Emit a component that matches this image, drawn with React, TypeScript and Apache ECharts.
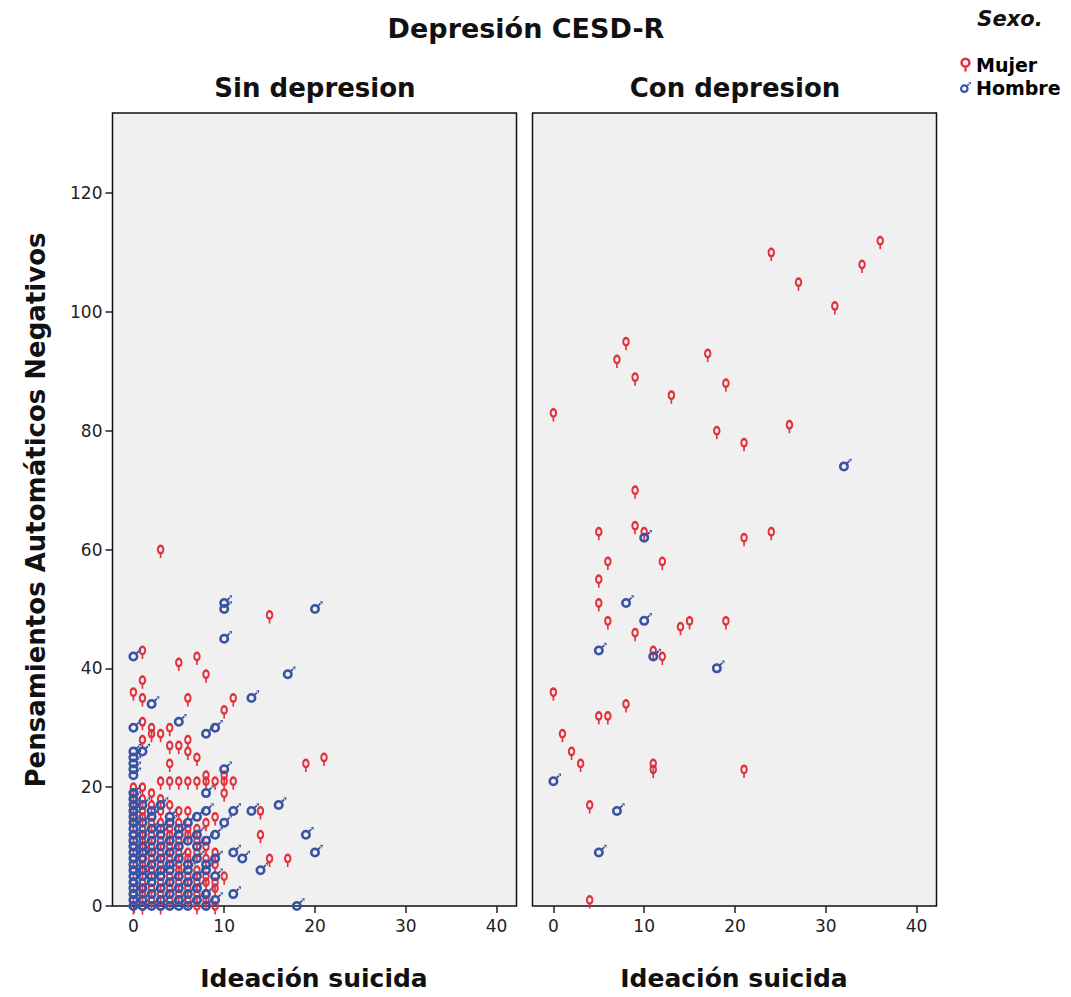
import React, { useEffect, useRef } from "react";
import * as echarts from "echarts";

// ---- Data (Ideación suicida, Pensamientos Automáticos Negativos) ----
const leftMujer: number[][] = [
  [3, 60], [15, 49], [1, 43], [5, 41], [7, 42], [8, 39], [1, 38], [0, 36], [1, 35], [6, 35], [11, 35], [10, 33],
  [1, 31], [2, 30], [3, 29], [4, 30], [6, 28], [1, 28], [2, 29], [4, 27], [5, 27], [6, 26], [7, 25], [4, 24],
  [10, 22], [8, 22], [19, 24], [21, 25], [3, 21], [4, 21], [5, 21], [6, 21], [7, 21], [8, 21], [9, 21], [10, 21],
  [11, 21], [10, 19], [0, 20], [1, 20], [14, 16], [5, 16], [6, 16], [6, 13], [7, 13], [14, 12], [15, 8], [17, 8],
  [10, 5], [9, 4], [8, 2], [9, 0],
  [0, 0], [0, 2], [0, 4], [0, 6], [0, 8], [0, 10], [0, 12], [0, 14], [0, 15], [0, 16], [0, 17], [0, 18], [0, 19],
  [1, 0], [1, 2], [1, 3], [1, 4], [1, 6], [1, 7], [1, 8], [1, 10], [1, 11], [1, 12], [1, 13], [1, 15], [1, 16], [1, 18],
  [2, 1], [2, 3], [2, 6], [2, 8], [2, 10], [2, 12], [2, 14], [2, 17], [2, 19],
  [3, 0], [3, 2], [3, 4], [3, 7], [3, 9], [3, 11], [3, 14], [3, 16], [3, 18],
  [4, 1], [4, 3], [4, 5], [4, 8], [4, 10], [4, 12], [4, 13], [4, 17],
  [5, 2], [5, 4], [5, 6], [5, 7], [5, 9], [5, 11], [5, 14],
  [6, 1], [6, 3], [6, 5], [6, 8], [6, 9], [6, 12],
  [7, 0], [7, 2], [7, 4], [7, 6], [7, 9], [7, 11],
  [8, 1], [8, 4], [8, 5], [8, 8], [8, 10], [8, 14],
  [9, 3], [9, 7], [9, 9], [9, 15],
];

const leftHombre: number[][] = [
  [10, 51], [10, 50], [20, 50], [10, 45], [0, 42], [17, 39], [2, 34], [13, 35], [5, 31], [0, 30], [8, 29], [9, 30],
  [10, 23], [8, 19], [16, 17], [13, 16], [11, 16], [8, 16], [10, 14], [19, 12], [9, 12], [20, 9], [11, 9], [12, 8],
  [14, 6], [11, 2], [18, 0],
  [0, 0], [0, 1], [0, 2], [0, 3], [0, 4], [0, 5], [0, 6], [0, 7], [0, 8], [0, 9], [0, 10], [0, 11], [0, 12], [0, 13],
  [0, 14], [0, 15], [0, 16], [0, 17], [0, 18], [0, 19], [0, 22], [0, 23], [0, 24], [0, 25], [0, 26],
  [1, 0], [1, 1], [1, 3], [1, 5], [1, 6], [1, 8], [1, 9], [1, 10], [1, 12], [1, 14], [1, 17], [1, 26],
  [2, 0], [2, 2], [2, 4], [2, 5], [2, 7], [2, 9], [2, 11], [2, 13], [2, 15], [2, 16],
  [3, 0], [3, 1], [3, 3], [3, 5], [3, 6], [3, 8], [3, 10], [3, 12], [3, 13], [3, 17],
  [4, 0], [4, 2], [4, 4], [4, 6], [4, 7], [4, 9], [4, 11], [4, 14], [4, 15],
  [5, 0], [5, 1], [5, 3], [5, 5], [5, 8], [5, 10], [5, 12], [5, 13],
  [6, 0], [6, 2], [6, 4], [6, 6], [6, 7], [6, 11], [6, 14],
  [7, 1], [7, 3], [7, 5], [7, 8], [7, 10], [7, 12], [7, 15],
  [8, 0], [8, 2], [8, 6], [8, 7], [8, 11],
  [9, 1], [9, 5], [9, 8],
];

const rightMujer: number[][] = [
  [24, 110], [36, 112], [34, 108], [27, 105], [31, 101], [8, 95], [7, 92], [17, 93], [9, 89], [19, 88], [13, 86],
  [0, 83], [18, 80], [26, 81], [21, 78], [9, 70], [5, 63], [9, 64], [10, 63], [21, 62], [24, 63], [6, 58], [12, 58],
  [5, 55], [5, 51], [6, 48], [9, 46], [14, 47], [15, 48], [19, 48], [11, 43], [12, 42], [0, 36], [8, 34], [5, 32],
  [6, 32], [1, 29], [2, 26], [3, 24], [11, 24], [11, 23], [21, 23], [4, 17], [4, 1],
];

const rightHombre: number[][] = [
  [32, 74], [10, 62], [8, 51], [10, 48], [5, 43], [11, 42], [18, 40], [0, 21], [7, 16], [5, 9],
];

const xTicks = [0, 10, 20, 30, 40];
const yTicks = [0, 20, 40, 60, 80, 100, 120];
const panelTitles = ["Sin depresion", "Con depresion"];
const mainTitle = "Depresión CESD-R";
const xTitle = "Ideación suicida";
const yTitle = "Pensamientos Automáticos Negativos";
const legendTitle = "Sexo.";
const sexNames = ["Mujer", "Hombre"];

// ---- Styles ----
const FEMALE_COLOR = "#e3303d";
const MALE_COLOR = "#3a52a3";
const FONT = "DejaVu Sans";

const FEMALE_PATH =
  "path://M0,-1A1,1 0 1,1 0,1A1,1 0 1,1 0,-1ZM0,-0.5A0.5,0.5 0 1,0 0,0.5A0.5,0.5 0 1,0 0,-0.5ZM-0.22,0.85L0.22,0.85L0.22,1.7L-0.22,1.7Z";
const MALE_PATH =
  "path://M0,-1A1,1 0 1,1 0,1A1,1 0 1,1 0,-1ZM0,-0.5A0.5,0.5 0 1,0 0,0.5A0.5,0.5 0 1,0 0,-0.5ZM0.657,-0.403L0.403,-0.657L0.973,-1.227L1.227,-0.973ZM1.55,-1.55L1.5,-0.95L0.95,-1.5Z";

const GRID_TOP = 113;
const GRID_H = 793;
const GRID_W = 404;
const GRID_LEFTS = [112.5, 532.5];

function makeSeries(name: string, data: number[][], idx: number, female: boolean) {
  return {
    type: "scatter",
    name,
    xAxisIndex: idx,
    yAxisIndex: idx,
    data,
    symbol: female ? FEMALE_PATH : MALE_PATH,
    symbolSize: female ? [10, 13.5] : [12.75, 12.75],
    symbolOffset: female ? [0, 1.75] : [1.4, -1.4],
    symbolKeepAspect: true,
    itemStyle: { color: female ? FEMALE_COLOR : MALE_COLOR, opacity: 1 },
    emphasis: { disabled: true },
    clip: false,
  };
}

export default function App() {
  const ref = useRef<HTMLDivElement>(null);

  useEffect(() => {
    if (!ref.current) return;
    const chart = echarts.init(ref.current, undefined, { renderer: "svg" });

    const xAxes = [0, 1].map((i) => ({
      gridIndex: i,
      type: "value",
      min: -2.3,
      max: 42.2,
      axisLine: { show: false, onZero: false },
      splitLine: { show: false },
      axisTick: { show: true, customValues: xTicks, length: 7, lineStyle: { color: "#222", width: 1.5 } },
      axisLabel: { customValues: xTicks, fontSize: 17, color: "#222", margin: 11, fontFamily: FONT },
    }));

    const yAxes = [0, 1].map((i) => ({
      gridIndex: i,
      type: "value",
      min: 0,
      max: 133.5,
      axisLine: { show: false, onZero: false },
      splitLine: { show: false },
      axisTick: {
        show: i === 0,
        customValues: yTicks,
        length: 7,
        lineStyle: { color: "#222", width: 1.5 },
      },
      axisLabel: {
        show: i === 0,
        customValues: yTicks,
        fontSize: 17,
        color: "#222",
        margin: 10,
        fontFamily: FONT,
      },
    }));

    const titleStyle = (text: string, size: number) => ({
      text,
      fontSize: size,
      fontWeight: "bold",
      fontFamily: FONT,
      fill: "#111",
      align: "center",
      verticalAlign: "middle",
    });

    const option = {
      animation: false,
      backgroundColor: "#ffffff",
      textStyle: { fontFamily: FONT },
      grid: GRID_LEFTS.map((left) => ({
        left,
        top: GRID_TOP,
        width: GRID_W,
        height: GRID_H,
        show: true,
        backgroundColor: "#f0f0f0",
        borderColor: "#111",
        borderWidth: 1.5,
        containLabel: false,
      })),
      xAxis: xAxes,
      yAxis: yAxes,
      legend: {
        data: sexNames,
        orient: "vertical",
        left: 955,
        top: 50,
        itemWidth: 11,
        itemHeight: 14,
        itemGap: 4,
        selectedMode: false,
        textStyle: { fontSize: 19, fontWeight: "bold", fontFamily: FONT, color: "#000" },
      },
      graphic: [
        { type: "text", x: 526, y: 28, style: titleStyle(mainTitle, 27) },
        { type: "text", x: 315, y: 88, style: titleStyle(panelTitles[0], 26) },
        { type: "text", x: 735, y: 88, style: titleStyle(panelTitles[1], 26) },
        { type: "text", x: 314, y: 978, style: titleStyle(xTitle, 25) },
        { type: "text", x: 734, y: 978, style: titleStyle(xTitle, 25) },
        { type: "text", x: 36, y: 510, rotation: Math.PI / 2, style: titleStyle(yTitle, 26) },
        {
          type: "text",
          x: 1010,
          y: 19,
          style: {
            text: legendTitle,
            fontSize: 21,
            fontStyle: "italic",
            fontWeight: "bold",
            fontFamily: FONT,
            fill: "#111",
            align: "center",
            verticalAlign: "middle",
          },
        },
      ],
      series: [
        makeSeries(sexNames[0], leftMujer, 0, true),
        makeSeries(sexNames[1], leftHombre, 0, false),
        makeSeries(sexNames[0], rightMujer, 1, true),
        makeSeries(sexNames[1], rightHombre, 1, false),
      ],
    };

    chart.setOption(option as any);
    return () => chart.dispose();
  }, []);

  return (
    <div
      ref={ref}
      style={{ position: "fixed", left: 0, top: 0, width: 1071, height: 997, background: "#fff" }}
    />
  );
}
